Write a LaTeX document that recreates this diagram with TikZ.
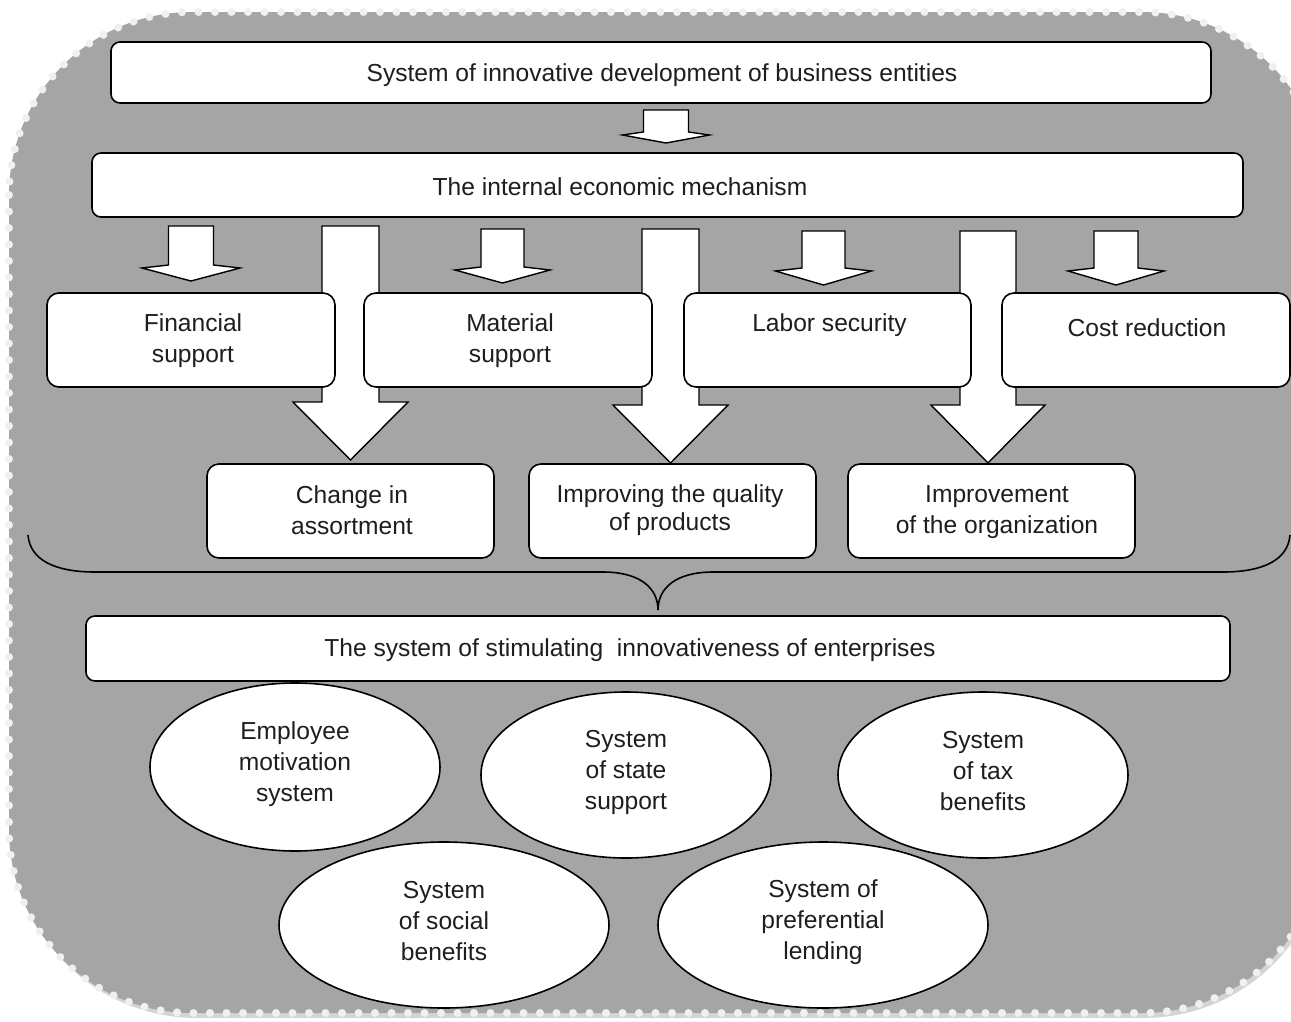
\documentclass[tikz,border=0pt]{standalone}
\usepackage{fontspec}
\setmainfont{Liberation Sans}
\usetikzlibrary{shapes.geometric}
\definecolor{bggray}{RGB}{165,165,165}
\definecolor{dotgray}{RGB}{240,240,240}
\definecolor{shadowgray}{RGB}{212,212,212}
\definecolor{txt}{RGB}{30,30,30}
\newcommand\blkarrow[6]{% cx, shaft half, head half, ytop, ybase, ytip
  \draw[arrowshape] (#1-#2,#4) -- (#1+#2,#4) -- (#1+#2,#5) -- (#1+#3,#5+3) -- (#1,#6) -- (#1-#3,#5+3) -- (#1-#2,#5) -- cycle;}
\newcommand\bigarrow[6]{% cx, shaft half, head half, ytop, ybase, ytip
  \draw[arrowshape] (#1-#2,#4) -- (#1+#2,#4) -- (#1+#2,#5) -- (#1+#3,#5) -- (#1,#6) -- (#1-#3,#5) -- (#1-#2,#5) -- cycle;}
\tikzset{
  every node/.append style={font=\fontsize{24.6}{31}\selectfont, text=txt},
  box/.style={draw=black, line width=1.6pt, fill=white, rounded corners=12pt, inner sep=0pt},
  widebox/.style={box, rounded corners=9pt},
  oval/.style={draw=black, line width=1.6pt, fill=white, ellipse, inner sep=0pt},
  lbl/.style={align=center, inner sep=0pt},
  arrowshape/.style={draw=black, line width=1.4pt, fill=white, line join=miter},
}
\begin{document}
\begin{tikzpicture}[x=1pt, y=-1pt]
\useasboundingbox (0,0) rectangle (1291,1021);
% background
\fill[shadowgray, rounded corners=185pt] (12,18) rectangle (1328,1018);
\fill[bggray, rounded corners=183pt] (9,12) rectangle (1325,1013);
\draw[dotgray, line width=8pt, line cap=round, dash pattern=on 0pt off 16.5pt, rounded corners=183pt] (9,12) rectangle (1325,1013);

% block arrows (drawn below the boxes)
\blkarrow{666}{22.5}{43.5}{110}{132}{143}
\blkarrow{191}{22.5}{49}{226}{265}{281}
\blkarrow{502.5}{21.5}{47.5}{229}{267}{283}
\blkarrow{823.5}{21.5}{48}{231}{268}{285}
\blkarrow{1116}{22}{48}{231}{268}{285}
\bigarrow{350.5}{28.5}{57.5}{226}{402}{460}
\bigarrow{670.5}{28.5}{57.5}{229}{405}{463}
\bigarrow{988}{28}{57}{231}{405}{463}

% top boxes
\node[widebox, minimum width=1100pt, minimum height=61pt] (top) at (661,72.5) {};
\node[lbl] (toptxt) at (662,75) {System of innovative development of business entities};
\node[widebox, minimum width=1151pt, minimum height=64pt] (mech) at (667.5,185) {};
\node[lbl] (mechtxt) at (620,187) {The internal economic mechanism};

% row 3
\node[box, minimum width=288pt, minimum height=94pt] (fin) at (191,340) {};
\node[lbl] (fintxt) at (193,340.5) {Financial\\support};
\node[box, minimum width=288pt, minimum height=94pt] (mat) at (508,340) {};
\node[lbl] (mattxt) at (510,340.5) {Material\\support};
\node[box, minimum width=287pt, minimum height=94pt] (lab) at (827.5,340) {};
\node[lbl] (labtxt) at (829.5,325) {Labor security};
\node[box, minimum width=288pt, minimum height=94pt] (cost) at (1146,340) {};
\node[lbl] (costtxt) at (1147,328) {Cost reduction};

% row 4
\node[box, minimum width=287pt, minimum height=94pt] (chg) at (350.5,511) {};
\node[lbl] (chgtxt) at (352,510) {Change in\\assortment};
\node[box, minimum width=287pt, minimum height=94pt] (qual) at (672.5,511) {};
\node[lbl] (qualtxt) at (670,510) {Improving the quality\\[-3pt]of products};
\node[box, minimum width=287pt, minimum height=94pt] (org) at (991.5,511) {};
\node[lbl] (orgtxt) at (997,512) {Improvement\\of the organization};

% brace
\draw[black, line width=1.6pt]
  (28,535) .. controls (30,560) and (55,572) .. (95,572) -- (603,572)
  .. controls (640,572) and (658,588) .. (658,610)
  .. controls (658,588) and (676,572) .. (713,572) -- (1223,572)
  .. controls (1263,572) and (1288,560) .. (1290,535);

% stimulating system
\node[widebox, minimum width=1144pt, minimum height=65pt] (stim) at (658,648.5) {};
\node[lbl] (stimtxt) at (630,650) {The system of stimulating~ innovativeness of enterprises};

% ellipses
\node[oval, minimum width=290pt, minimum height=168pt] (e1) at (295,767) {};
\node[lbl] (e1txt) at (295,764) {Employee\\motivation\\system};
\node[oval, minimum width=290pt, minimum height=166pt] (e2) at (626,775) {};
\node[lbl] (e2txt) at (626,772) {System\\of state\\support};
\node[oval, minimum width=290pt, minimum height=166pt] (e3) at (983,775) {};
\node[lbl] (e3txt) at (983,771) {System\\of tax\\benefits};
\node[oval, minimum width=330pt, minimum height=166pt] (e4) at (444,925) {};
\node[lbl] (e4txt) at (444,921) {System\\of social\\benefits};
\node[oval, minimum width=330pt, minimum height=166pt] (e5) at (823,925) {};
\node[lbl] (e5txt) at (823,922) {System of\\preferential\\lending};
\end{tikzpicture}
\end{document}
